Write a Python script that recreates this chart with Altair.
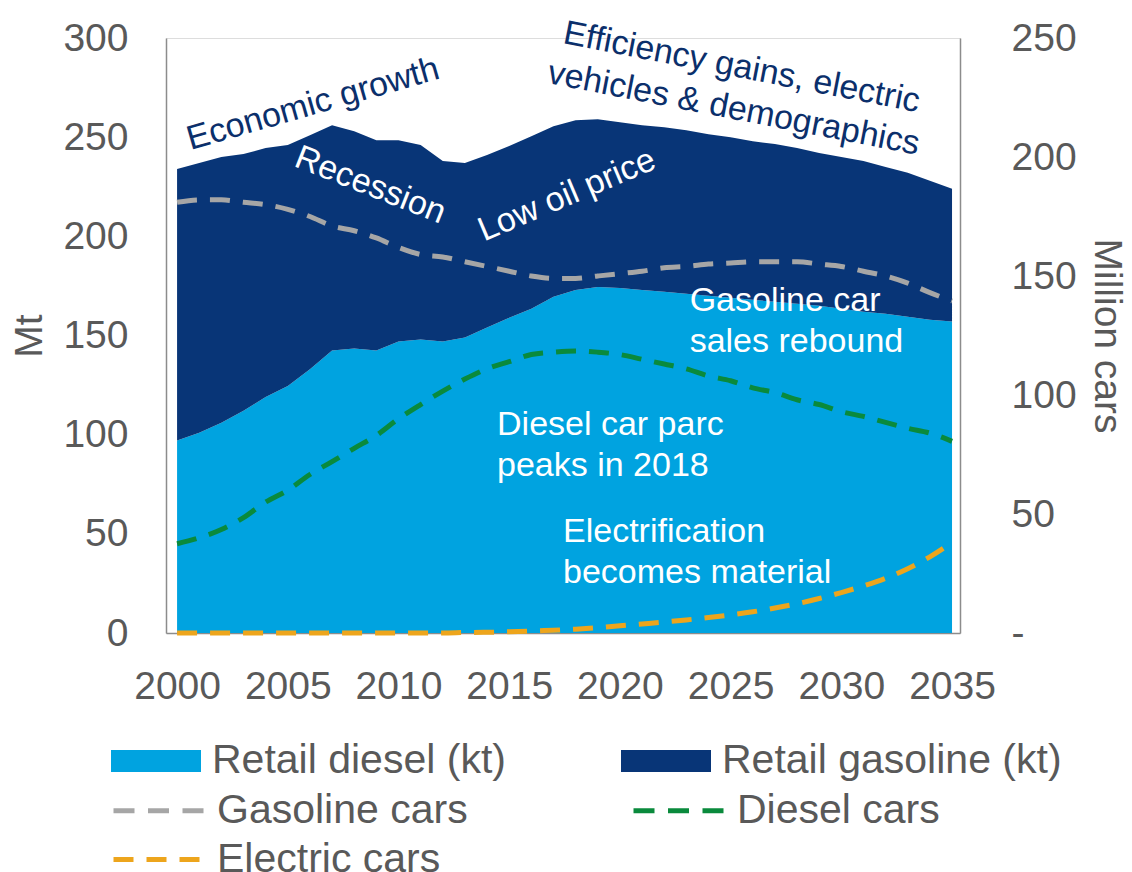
import altair as alt
import pandas as pd

years = list(range(2000, 2036))
retail_diesel = [97, 101, 106, 112, 119, 124.5, 133, 142.5, 143.5, 142.5, 147,
                 148, 147, 149, 154, 159, 163.5, 169.5, 173, 174.5, 174,
                 173, 172, 171, 170, 169, 168, 167, 166, 165, 163.5,
                 162, 161, 159.5, 158, 157]
retail_gasoline = [137, 136, 134, 129.5, 125.5, 121.5, 118, 113.5, 109.5, 106, 101.5,
                   98, 91, 88, 87, 86.5, 87, 86, 85.5, 84.5, 83.5,
                   83, 83, 82.5, 81.5, 81, 80, 79.5, 78.5, 77, 76.5,
                   76, 74, 72.5, 70, 67]
gasoline_cars = [181, 182, 182, 181, 180, 178, 175, 171, 169, 166, 162,
                 159, 158, 156, 154, 152, 150, 149, 149, 150, 151,
                 152, 153.5, 154, 155, 155.5, 156, 156, 156, 155, 154,
                 152, 150, 147, 143, 139.5]
diesel_cars = [37.5, 40, 43.5, 48.5, 55, 60, 66.6, 72, 77.6, 83, 90,
               96, 101.6, 106.7, 111, 114, 117, 118, 118.5, 118, 117,
               115, 113, 111, 108, 106, 103, 101, 98, 96, 93,
               91, 88.5, 86, 84, 80.5]
electric_cars = [0, 0, 0, 0, 0, 0, 0, 0, 0, 0, 0, 0, 0,
                 0.2, 0.3, 0.5, 0.8, 1.2, 1.6, 2.2, 3, 3.8, 4.6,
                 5.5, 6.5, 7.6, 8.9, 10.5, 12.3, 14.5, 17, 19.8, 23,
                 27, 32, 38]

area_names = ["Retail diesel (kt)", "Retail gasoline (kt)"]
area_colors = ["#00A3E0", "#083577"]
line_names = ["Gasoline cars", "Diesel cars"]
line_colors = ["#A6A6A6", "#0A8A3C"]
ev_name = "Electric cars"
ev_color = "#EDA51C"
x_ticks = [2000, 2005, 2010, 2015, 2020, 2025, 2030, 2035]

# rotated annotations: text, year, Mt, angle, colour
rot_text = ["Economic growth", "Recession", "Low oil price",
            "Efficiency gains, electric\nvehicles & demographics"]
rot_year = [2006.14, 2008.72, 2017.61, 2025.5]
rot_mt = [266.5, 225.6, 220.6, 285.0]
rot_angle = [344, 21.5, 337, 11]
rot_color = ["#0B2F6B", "#FFFFFF", "#FFFFFF", "#0B2F6B"]

# flat annotations (left aligned, white)
flat_text = ["Gasoline car\nsales rebound", "Diesel car parc\npeaks in 2018",
             "Electrification\nbecomes material"]
flat_year = [2023.15, 2014.45, 2017.43]
flat_mt = [167.3, 105.0, 50.7]

FONT = "Liberation Sans"
GREY = "#595959"
DASH = [20, 13]

area_df = pd.DataFrame({
    "year": years * 2,
    "value": retail_diesel + retail_gasoline,
    "series": [area_names[0]] * len(years) + [area_names[1]] * len(years),
    "ord": [0] * len(years) + [1] * len(years),
})
line_df = pd.DataFrame({
    "year": years * 2,
    "value": gasoline_cars + diesel_cars,
    "series": sum([[n] * len(years) for n in line_names], []),
})
ev_df = pd.DataFrame({"year": years, "value": electric_cars,
                      "series": [ev_name] * len(years)})
rot_df = pd.DataFrame({"text": rot_text, "year": rot_year, "mt": rot_mt,
                       "angle": rot_angle, "col": rot_color})
flat_df = pd.DataFrame({"text": flat_text, "year": flat_year, "mt": flat_mt})

xscale = alt.Scale(domain=[1999.5, 2035.36], nice=False, zero=False)
x_axis = alt.Axis(values=x_ticks, format="d", title=None, ticks=False, tickSize=0,
                  labelPadding=34, labelFontSize=39, labelColor=GREY, labelFont=FONT,
                  domainColor="#8C8C8C", domainWidth=1.5, grid=False, labelFlush=False)

rect_path = "M-1,-0.245L1,-0.245L1,0.245L-1,0.245Z"
legend_common = dict(title=None, orient="none", direction="horizontal",
                     labelOffset=11, labelFontSize=41, labelFont=FONT,
                     labelColor=GREY, labelLimit=0)

area = alt.Chart(area_df).mark_area(interpolate="linear").encode(
    x=alt.X("year:Q", scale=xscale, axis=x_axis),
    y=alt.Y("value:Q", stack="zero",
            scale=alt.Scale(domain=[0, 300], nice=False),
            axis=alt.Axis(values=[0, 50, 100, 150, 200, 250, 300], title="Mt",
                          orient="left", ticks=False, tickSize=0, labelPadding=38,
                          labelFontSize=39, labelColor=GREY, labelFont=FONT,
                          titleFontSize=39, titleColor=GREY, titleFont=FONT,
                          titleFontWeight="normal", titlePadding=13,
                          domainColor="#8C8C8C", domainWidth=1.5, grid=False)),
    fill=alt.Fill("series:N", sort=area_names,
                  scale=alt.Scale(domain=area_names, range=area_colors),
                  legend=alt.Legend(legendX=-55, legendY=678,
                                    columns=2, columnPadding=115,
                                    symbolType=rect_path, symbolSize=8100,
                                    symbolStrokeWidth=0, symbolOpacity=1,
                                    **legend_common)),
    order=alt.Order("ord:Q"),
)

yright = alt.Y("value:Q", scale=alt.Scale(domain=[0, 250], nice=False),
               axis=alt.Axis(values=[0, 50, 100, 150, 200, 250], title="Million cars",
                             orient="right", ticks=False, tickSize=0, labelPadding=51,
                             labelExpr="datum.value == 0 ? '-' : datum.label",
                             labelFontSize=39, labelColor=GREY, labelFont=FONT,
                             titleFontSize=39, titleColor=GREY, titleFont=FONT,
                             titleFontWeight="normal", titlePadding=10,
                             domainColor="#8C8C8C", domainWidth=1.5, grid=False))

lines = alt.Chart(line_df).mark_line(strokeWidth=5, strokeDash=DASH,
                                     interpolate="monotone").encode(
    x=alt.X("year:Q", scale=xscale),
    y=yright,
    stroke=alt.Stroke("series:N", sort=line_names,
                      scale=alt.Scale(domain=line_names, range=line_colors),
                      legend=alt.Legend(legendX=-55, legendY=725,
                                        columns=2, columnPadding=155,
                                        symbolType="stroke", symbolSize=8100,
                                        symbolStrokeWidth=5, symbolDash=[21, 13.5],
                                        **legend_common)),
)

ev = alt.Chart(ev_df).mark_line(strokeWidth=5, stroke=ev_color,
                                interpolate="monotone").encode(
    x=alt.X("year:Q", scale=xscale),
    y=alt.Y("value:Q"),
    strokeDash=alt.StrokeDash("series:N",
                              scale=alt.Scale(domain=[ev_name], range=[DASH]),
                              legend=alt.Legend(legendX=-55, legendY=774,
                                                symbolType="stroke", symbolSize=8100,
                                                symbolStrokeWidth=5,
                                                symbolStrokeColor=ev_color,
                                                **legend_common)),
)

right_group = alt.layer(lines, ev)

rot = alt.Chart(rot_df).mark_text(fontSize=34, font=FONT, align="center",
                                  baseline="middle", lineBreak="\n",
                                  lineHeight=42).encode(
    x=alt.X("year:Q", scale=xscale),
    y=alt.Y("mt:Q", scale=alt.Scale(domain=[0, 300], nice=False), axis=None),
    text="text:N",
    angle=alt.Angle("angle:Q", scale=None),
    color=alt.Color("col:N", scale=None),
)

flat = alt.Chart(flat_df).mark_text(fontSize=34, font=FONT, align="left",
                                    baseline="middle", lineBreak="\n",
                                    lineHeight=41, color="#FFFFFF").encode(
    x=alt.X("year:Q", scale=xscale),
    y=alt.Y("mt:Q", scale=alt.Scale(domain=[0, 300], nice=False), axis=None),
    text="text:N",
)

chart = alt.layer(area, right_group, rot, flat).resolve_scale(
    y="independent", fill="independent", stroke="independent"
).properties(
    width=794, height=595,
    padding={"left": 158, "top": 30, "right": 164, "bottom": 245},
    autosize=alt.AutoSizeParams(type="none"),
).configure_view(stroke=None).configure(background="white")

chart.save("out.html", embed_options={"renderer": "svg", "actions": False})
